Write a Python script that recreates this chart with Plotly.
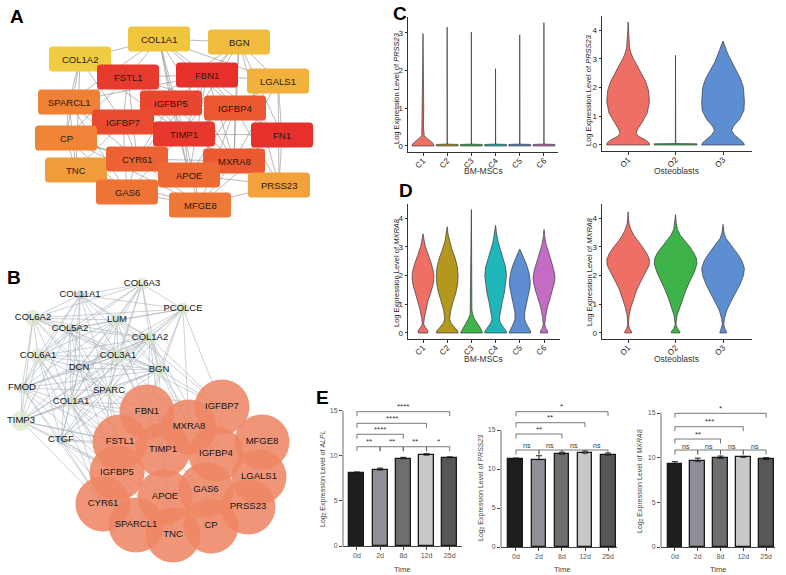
import plotly.graph_objects as go

W, H = 786, 575
FONT = "Liberation Sans, Arial, sans-serif"

# ---------------- Panel A : PPI network (boxes) ----------------
a_genes = ["COL1A2", "COL1A1", "BGN", "LGALS1", "FSTL1", "FBN1", "SPARCL1", "IGFBP5", "IGFBP4", "IGFBP7",
           "CP", "TIMP1", "FN1", "TNC", "CYR61", "MXRA8", "GAS6", "PRSS23", "APOE", "MFGE8"]
a_pos_x = [80, 159, 239, 278, 128, 207, 69, 171, 235, 123, 66, 184, 282, 76, 137, 234, 127, 279, 189, 200]
a_pos_y = [59, 39, 42, 81, 77, 75, 102, 103, 108, 122, 138, 134, 135, 170, 159, 161, 192, 185, 175, 205]
a_colors = ["#EFCC42", "#F0C63F", "#F1BC3D", "#F2B13C", "#E8392E", "#E7302C", "#EF8036", "#E9452F", "#EB5731",
            "#E94B30", "#EF8437", "#E8372E", "#E7302C", "#F19C3A", "#EC6233", "#EB5A31", "#EE7435", "#F2A13B",
            "#ED6A34", "#EE7836"]
a_edges = [
    ("COL1A1", "COL1A2"), ("COL1A1", "BGN"), ("COL1A1", "FSTL1"), ("COL1A1", "FBN1"), ("COL1A1", "IGFBP5"),
    ("COL1A1", "TIMP1"), ("COL1A1", "LGALS1"), ("COL1A1", "SPARCL1"), ("COL1A1", "MXRA8"), ("COL1A1", "APOE"),
    ("COL1A1", "IGFBP4"), ("BGN", "FBN1"), ("BGN", "LGALS1"), ("BGN", "IGFBP4"), ("BGN", "TIMP1"), ("BGN", "FN1"),
    ("BGN", "MXRA8"), ("BGN", "IGFBP7"), ("BGN", "CYR61"), ("BGN", "PRSS23"), ("COL1A2", "FSTL1"),
    ("COL1A2", "SPARCL1"), ("COL1A2", "IGFBP7"), ("COL1A2", "CP"), ("COL1A2", "TIMP1"), ("COL1A2", "IGFBP5"),
    ("FSTL1", "FBN1"), ("FSTL1", "IGFBP5"), ("FSTL1", "IGFBP7"), ("FSTL1", "SPARCL1"), ("FSTL1", "TIMP1"),
    ("FSTL1", "CYR61"), ("FSTL1", "IGFBP4"), ("FSTL1", "CP"), ("FBN1", "IGFBP5"), ("FBN1", "IGFBP4"),
    ("FBN1", "TIMP1"), ("FBN1", "LGALS1"), ("FBN1", "FN1"), ("FBN1", "MXRA8"), ("FBN1", "APOE"),
    ("LGALS1", "FN1"), ("LGALS1", "PRSS23"), ("LGALS1", "IGFBP4"), ("LGALS1", "MXRA8"), ("LGALS1", "TIMP1"),
    ("SPARCL1", "CP"), ("SPARCL1", "TNC"), ("SPARCL1", "IGFBP7"), ("SPARCL1", "GAS6"), ("SPARCL1", "CYR61"),
    ("IGFBP5", "IGFBP4"), ("IGFBP5", "TIMP1"), ("IGFBP5", "IGFBP7"), ("IGFBP5", "MXRA8"), ("IGFBP5", "CYR61"),
    ("IGFBP5", "APOE"), ("IGFBP4", "TIMP1"), ("IGFBP4", "FN1"), ("IGFBP4", "MXRA8"), ("IGFBP4", "APOE"),
    ("IGFBP4", "PRSS23"), ("IGFBP4", "MFGE8"), ("IGFBP7", "CP"), ("IGFBP7", "TIMP1"), ("IGFBP7", "CYR61"),
    ("IGFBP7", "TNC"), ("IGFBP7", "GAS6"), ("CP", "TNC"), ("CP", "CYR61"), ("CP", "GAS6"), ("CP", "APOE"),
    ("TIMP1", "FN1"), ("TIMP1", "MXRA8"), ("TIMP1", "CYR61"), ("TIMP1", "APOE"), ("TIMP1", "GAS6"),
    ("TIMP1", "MFGE8"), ("TIMP1", "PRSS23"), ("FN1", "MXRA8"), ("FN1", "PRSS23"), ("FN1", "MFGE8"),
    ("FN1", "APOE"), ("TNC", "CYR61"), ("TNC", "GAS6"), ("TNC", "MFGE8"), ("CYR61", "APOE"), ("CYR61", "GAS6"),
    ("CYR61", "MXRA8"), ("CYR61", "MFGE8"), ("MXRA8", "APOE"), ("MXRA8", "PRSS23"), ("MXRA8", "MFGE8"),
    ("MXRA8", "GAS6"), ("APOE", "GAS6"), ("APOE", "MFGE8"), ("APOE", "PRSS23"), ("GAS6", "MFGE8"),
    ("PRSS23", "MFGE8"), ("COL1A2", "TNC"), ("SPARCL1", "FBN1"), ("CP", "MFGE8"),
]

# ---------------- Panel B : PPI network (circles) ----------------
b_small = ["COL6A3", "COL11A1", "PCOLCE", "COL6A2", "LUM", "COL5A2", "COL1A2", "COL6A1", "COL3A1", "DCN",
           "BGN", "FMOD", "SPARC", "COL1A1", "TIMP3", "CTGF"]
b_small_x = [142, 80, 183, 33, 117, 70, 150, 38, 118, 79, 159, 22, 109, 71, 21, 61]
b_small_y = [284, 295, 309, 318, 320, 329, 338, 356, 356, 368, 370, 388, 391, 402, 421, 440]
b_small_size = [12, 9, 13, 16, 13, 9, 14, 15, 15, 10, 14, 11, 13, 14, 20, 9]
b_small_color = ["#D7E6CA", "#B7CAD6", "#D7E6CA", "#D7E6CA", "#D7E6CA", "#BCCDD8", "#D7E6CA", "#D7E6CA",
                 "#D7E6CA", "#BCCDD8", "#D7E6CA", "#C9D8D6", "#D7E6CA", "#D7E6CA", "#D9E8C6", "#A9C0D2"]
b_big = ["FBN1", "IGFBP7", "MXRA8", "FSTL1", "TIMP1", "IGFBP4", "MFGE8", "IGFBP5", "LGALS1", "APOE",
         "GAS6", "CYR61", "PRSS23", "SPARCL1", "CP", "TNC"]
b_big_x = [147, 222, 189, 120, 163, 216, 262, 117, 259, 165, 206, 103, 248, 136, 211, 173]
b_big_y = [412, 407, 427, 442, 450, 454, 442, 473, 477, 497, 490, 504, 507, 525, 526, 535]
b_adjacency = {
    "COL6A3": ["COL11A1", "PCOLCE", "LUM", "COL5A2", "COL1A2", "COL3A1", "DCN", "BGN", "COL6A2", "COL6A1", "SPARC", "COL1A1"],
    "COL11A1": ["COL6A2", "LUM", "COL5A2", "COL1A2", "COL6A1", "COL3A1", "DCN", "BGN", "SPARC", "COL1A1", "FMOD", "PCOLCE"],
    "PCOLCE": ["LUM", "COL1A2", "COL3A1", "BGN", "COL5A2", "COL6A2", "DCN", "SPARC", "COL1A1", "IGFBP7", "MXRA8", "FBN1"],
    "COL6A2": ["LUM", "COL5A2", "COL1A2", "COL6A1", "COL3A1", "DCN", "FMOD", "COL1A1", "TIMP3", "SPARC", "BGN"],
    "LUM": ["COL5A2", "COL1A2", "COL6A1", "COL3A1", "DCN", "BGN", "FMOD", "SPARC", "COL1A1", "FBN1", "IGFBP7"],
    "COL5A2": ["COL1A2", "COL6A1", "COL3A1", "DCN", "BGN", "FMOD", "SPARC", "COL1A1", "TIMP3", "CTGF", "FSTL1"],
    "COL1A2": ["COL6A1", "COL3A1", "DCN", "BGN", "FMOD", "SPARC", "COL1A1", "TIMP3", "CTGF", "FBN1", "MXRA8", "IGFBP7", "TIMP1", "IGFBP4"],
    "COL6A1": ["COL3A1", "DCN", "BGN", "FMOD", "SPARC", "COL1A1", "TIMP3", "CTGF", "IGFBP5", "CYR61"],
    "COL3A1": ["DCN", "BGN", "FMOD", "SPARC", "COL1A1", "TIMP3", "CTGF", "FBN1", "TIMP1", "IGFBP7", "MXRA8"],
    "DCN": ["BGN", "FMOD", "SPARC", "COL1A1", "TIMP3", "CTGF", "FSTL1", "IGFBP5", "TIMP1"],
    "BGN": ["FMOD", "SPARC", "COL1A1", "TIMP3", "CTGF", "IGFBP7", "FBN1", "MXRA8", "TIMP1", "IGFBP4"],
    "FMOD": ["SPARC", "COL1A1", "TIMP3", "CTGF", "CYR61", "FSTL1", "IGFBP5"],
    "SPARC": ["COL1A1", "TIMP3", "CTGF", "FBN1", "FSTL1", "TIMP1", "IGFBP7", "IGFBP5", "CYR61"],
    "COL1A1": ["TIMP3", "CTGF", "FBN1", "FSTL1", "TIMP1", "IGFBP5", "IGFBP7", "MXRA8", "CYR61", "SPARCL1", "APOE"],
    "TIMP3": ["CTGF", "FSTL1", "IGFBP5", "CYR61", "TIMP1"],
    "CTGF": ["FSTL1", "IGFBP5", "CYR61", "TIMP1", "APOE", "SPARCL1"],
    "FBN1": ["MXRA8", "TIMP1", "FSTL1"],
    "IGFBP7": ["MXRA8", "IGFBP4"],
    "MXRA8": ["TIMP1", "IGFBP4", "GAS6"],
    "FSTL1": ["TIMP1", "IGFBP5", "APOE"],
    "TIMP1": ["IGFBP4", "APOE", "GAS6", "CP", "TNC"],
    "IGFBP4": ["MFGE8", "LGALS1", "GAS6", "CP", "APOE"],
    "MFGE8": ["LGALS1"],
    "IGFBP5": ["APOE", "CYR61", "TNC"],
    "APOE": ["GAS6", "CP", "TNC", "SPARCL1"],
    "GAS6": ["PRSS23", "LGALS1", "CP"],
    "CYR61": ["SPARCL1"],
    "CP": ["TNC"],
    "PRSS23": ["LGALS1"],
}

# ---------------- Panels C / D : violin profiles (level, half-width) ----------------
bm_clusters = ["C1", "C2", "C3", "C4", "C5", "C6"]
ob_clusters = ["O1", "O2", "O3"]
bm_colors = ["#EF6F67", "#B4981E", "#3DB34A", "#1FB6B9", "#5D8ED1", "#C46BC4"]
ob_colors = ["#EF6F67", "#3DB34A", "#5D8ED1"]

prss23_bm = [
    [(0, .45), (.05, .44), (.12, .33), (.2, .16), (.28, .05), (.5, .02), (1.0, .03), (1.5, .03), (2.0, .015), (2.5, .006), (2.98, 0)],
    [(0, .45), (.04, .45), (.05, .004), (3.15, .002)],
    [(0, .45), (.04, .45), (.05, .004), (3.02, .002)],
    [(0, .45), (.04, .45), (.05, .004), (2.05, .002)],
    [(0, .45), (.04, .45), (.05, .004), (2.95, .002)],
    [(0, .45), (.04, .45), (.05, .004), (3.27, .002)],
]
prss23_ob = [
    [(0, .45), (.08, .44), (.18, .36), (.3, .22), (.4, .17), (.55, .2), (.8, .3), (1.1, .4), (1.5, .45), (1.9, .43),
     (2.2, .37), (2.5, .28), (2.8, .18), (3.0, .11), (3.2, .06), (3.4, .03), (3.7, .015), (4.0, .006), (4.28, 0)],
    [(0, .45), (.04, .45), (.05, .004), (3.12, .002)],
    [(0, .45), (.08, .43), (.2, .35), (.35, .24), (.5, .18), (.65, .22), (.9, .35), (1.2, .44), (1.5, .45), (2.0, .43),
     (2.3, .37), (2.6, .27), (2.9, .17), (3.1, .12), (3.3, .07), (3.5, .03), (3.62, 0)],
]
mxra8_bm = [
    [(0, .2), (.08, .2), (.2, .1), (.3, .03), (.5, .05), (.8, .12), (1.1, .2), (1.4, .32), (1.7, .42), (1.9, .45),
     (2.1, .44), (2.4, .35), (2.7, .22), (3.0, .1), (3.2, .05), (3.45, 0)],
    [(0, .45), (.06, .44), (.2, .3), (.35, .15), (.5, .1), (.8, .15), (1.1, .25), (1.4, .36), (1.7, .43), (2.0, .45),
     (2.3, .42), (2.6, .33), (2.9, .2), (3.2, .09), (3.45, .03), (3.7, 0)],
    [(0, .45), (.06, .44), (.2, .35), (.35, .22), (.5, .12), (.65, .05), (.8, .02), (1.5, .015), (2.5, .02),
     (3.0, .02), (3.5, .012), (4.0, .006), (4.3, 0)],
    [(0, .45), (.06, .44), (.2, .32), (.35, .2), (.5, .15), (.8, .2), (1.1, .28), (1.4, .36), (1.7, .42), (2.0, .45),
     (2.3, .41), (2.6, .32), (2.9, .2), (3.2, .1), (3.45, .04), (3.75, 0)],
    [(0, .45), (.06, .44), (.2, .35), (.35, .25), (.5, .2), (.7, .2), (1.0, .27), (1.3, .36), (1.6, .42), (1.8, .43),
     (2.1, .38), (2.4, .27), (2.6, .17), (2.8, .07), (2.92, 0)],
    [(0, .15), (.06, .15), (.15, .08), (.3, .03), (.6, .07), (.9, .14), (1.2, .25), (1.5, .36), (1.8, .44), (1.95, .45),
     (2.2, .4), (2.5, .3), (2.8, .18), (3.1, .08), (3.35, .03), (3.6, 0)],
]
mxra8_ob = [
    [(0, .07), (.05, .07), (.15, .03), (.3, .008), (.6, .02), (.9, .06), (1.2, .12), (1.5, .18), (1.8, .27), (2.1, .37),
     (2.35, .44), (2.55, .45), (2.75, .4), (3.0, .3), (3.2, .2), (3.4, .12), (3.6, .06), (3.8, .02), (4.0, .008), (4.22, 0)],
    [(0, .09), (.05, .09), (.15, .04), (.3, .008), (.6, .03), (.9, .09), (1.2, .15), (1.5, .22), (1.8, .3), (2.1, .39),
     (2.4, .45), (2.6, .44), (2.8, .38), (3.0, .3), (3.2, .2), (3.4, .1), (3.6, .04), (3.8, .015), (4.12, 0)],
    [(0, .07), (.05, .07), (.15, .04), (.3, .015), (.5, .03), (.8, .08), (1.1, .17), (1.4, .27), (1.7, .36), (2.0, .43),
     (2.25, .45), (2.5, .4), (2.7, .33), (2.9, .24), (3.1, .15), (3.3, .06), (3.5, .02), (3.78, 0)],
]

# ---------------- Panel E : bar charts ----------------
days = ["0d", "2d", "8d", "12d", "25d"]
bar_colors = ["#1E1E1E", "#8E8F97", "#6E6E6E", "#C8C8C8", "#575757"]
alpl_mean = [8.1, 8.45, 9.7, 10.1, 9.8]
alpl_err = [0.12, 0.2, 0.15, 0.15, 0.1]
prss23_mean = [11.3, 11.2, 11.9, 12.05, 11.8]
prss23_err = [0.1, 0.5, 0.25, 0.25, 0.25]
mxra8_mean = [9.35, 9.6, 9.93, 10.05, 9.8]
mxra8_err = [0.2, 0.35, 0.25, 0.1, 0.2]
alpl_sig = [(0, 1, 11.03, "**"), (1, 2, 11.03, "**"), (2, 3, 11.03, "**"), (3, 4, 11.03, "*"),
            (0, 2, 12.41, "****"), (0, 3, 13.63, "****"), (0, 4, 14.92, "****")]
prss23_sig = [(0, 1, 12.44, "ns"), (1, 2, 12.44, "ns"), (2, 3, 12.44, "ns"), (3, 4, 12.44, "ns"),
              (0, 2, 14.49, "**"), (0, 3, 15.94, "**"), (0, 4, 17.35, "*")]
mxra8_sig = [(0, 1, 10.86, "ns"), (1, 2, 10.86, "ns"), (2, 3, 10.86, "ns"), (3, 4, 10.86, "ns"),
             (0, 2, 12.09, "**"), (0, 3, 13.47, "***"), (0, 4, 14.97, "*")]

# =====================================================================
def dx(a, b):
    return [a / W, b / W]


def dy(top, bottom):
    return [1 - bottom / H, 1 - top / H]


def px(x):
    return x / W


def py(y):
    return 1 - y / H


fig = go.Figure()
annotations = []
shapes = []


def paper_text(x, y, text, size, color, angle=0, bold=False):
    annotations.append(dict(x=px(x), y=py(y), xref="paper", yref="paper",
                            text=f"<b>{text}</b>" if bold else text, textangle=angle,
                            xanchor="center", yanchor="middle", showarrow=False,
                            font=dict(family=FONT, size=size, color=color)))


# ---- network axes (pixel space) ----
NET_W = 330
layout_axes = dict(
    xaxis=dict(domain=dx(0, NET_W), range=[0, NET_W], visible=False, fixedrange=True, automargin=False),
    yaxis=dict(domain=[0, 1], range=[H, 0], visible=False, fixedrange=True, automargin=False),
)

# Panel A edges
a_idx = {g: i for i, g in enumerate(a_genes)}
ex, ey = [], []
for s, t in a_edges:
    i, j = a_idx[s], a_idx[t]
    ex += [a_pos_x[i], a_pos_x[j], None]
    ey += [a_pos_y[i], a_pos_y[j], None]
fig.add_trace(go.Scatter(x=ex, y=ey, mode="lines", line=dict(color="#8A8A8A", width=0.6),
                         hoverinfo="skip", showlegend=False, xaxis="x", yaxis="y"))


def rrect(cx, cy, w, h, r):
    x0, x1, y0, y1 = cx - w / 2, cx + w / 2, cy - h / 2, cy + h / 2
    return (f"M{x0 + r},{y0} L{x1 - r},{y0} Q{x1},{y0} {x1},{y0 + r} L{x1},{y1 - r} Q{x1},{y1} {x1 - r},{y1} "
            f"L{x0 + r},{y1} Q{x0},{y1} {x0},{y1 - r} L{x0},{y0 + r} Q{x0},{y0} {x0 + r},{y0} Z")


BOX_W, BOX_H = 62, 25
for g, x, y, c in zip(a_genes, a_pos_x, a_pos_y, a_colors):
    shapes.append(dict(type="path", path=rrect(x, y, BOX_W, BOX_H, 3.5), xref="x", yref="y",
                       fillcolor=c, line=dict(width=0), layer="above"))
    annotations.append(dict(x=x, y=y, xref="x", yref="y", text=g, showarrow=False,
                            xanchor="center", yanchor="middle",
                            font=dict(family=FONT, size=9.5, color="#2A1A12")))

# Panel B edges
b_pos = {}
for n, x, y in zip(b_small, b_small_x, b_small_y):
    b_pos[n] = (x, y)
for n, x, y in zip(b_big, b_big_x, b_big_y):
    b_pos[n] = (x, y)
bx, by = [], []
for s, targets in b_adjacency.items():
    for t in targets:
        bx += [b_pos[s][0], b_pos[t][0], None]
        by += [b_pos[s][1], b_pos[t][1], None]
fig.add_trace(go.Scatter(x=bx, y=by, mode="lines", line=dict(color="rgba(160,168,178,0.75)", width=0.7),
                         hoverinfo="skip", showlegend=False, xaxis="x", yaxis="y"))
fig.add_trace(go.Scatter(x=b_small_x, y=b_small_y, mode="markers",
                         marker=dict(size=b_small_size, color=b_small_color, line=dict(width=0)),
                         hoverinfo="skip", showlegend=False, xaxis="x", yaxis="y"))
fig.add_trace(go.Scatter(x=b_big_x, y=b_big_y, mode="markers",
                         marker=dict(size=55, color="rgb(238,134,100)", opacity=0.88, line=dict(width=0)),
                         hoverinfo="skip", showlegend=False, xaxis="x", yaxis="y"))
fig.add_trace(go.Scatter(x=b_small_x + b_big_x, y=b_small_y + b_big_y, mode="text", text=b_small + b_big,
                         textfont=dict(family=FONT, size=9.5, color="#151515"),
                         hoverinfo="skip", showlegend=False, xaxis="x", yaxis="y"))

# ---- violin panels ----
tick_font = dict(family=FONT, size=8, color="#222")


def add_violins(profiles, colors, xa, ya):
    for i, (prof, col) in enumerate(zip(profiles, colors)):
        lv = [p[0] for p in prof]
        hw = [p[1] for p in prof]
        xs = [i + w for w in hw] + [i - w for w in reversed(hw)] + [i + hw[0]]
        ys = lv + lv[::-1] + [lv[0]]
        fig.add_trace(go.Scatter(x=xs, y=ys, mode="lines", fill="toself", fillcolor=col,
                                 line=dict(color="#3A3A3A", width=0.7), hoverinfo="skip",
                                 showlegend=False, xaxis=xa, yaxis=ya))


viol_specs = [
    ("x2", "y2", prss23_bm, bm_colors, bm_clusters, dx(408, 558), dy(17, 152), [-0.62, 5.58], [-0.16, 3.42], [0, 1, 2, 3]),
    ("x3", "y3", prss23_ob, ob_colors, ob_clusters, dx(602, 752), dy(16, 151), [-0.55, 2.61], [-0.21, 4.49], [0, 1, 2, 3, 4]),
    ("x4", "y4", mxra8_bm, bm_colors, bm_clusters, dx(408, 560), dy(204, 339), [-0.62, 5.66], [-0.21, 4.49], [0, 1, 2, 3, 4]),
    ("x5", "y5", mxra8_ob, ob_colors, ob_clusters, dx(602, 752), dy(204, 339), [-0.55, 2.61], [-0.21, 4.49], [0, 1, 2, 3, 4]),
]
for xa, ya, prof, cols, cats, xd, yd, xr, yr, yt in viol_specs:
    add_violins(prof, cols, xa, ya)
    xn = "xaxis" + xa[1:]
    yn = "yaxis" + ya[1:]
    layout_axes[xn] = dict(domain=xd, range=xr, anchor=ya, showline=True, linecolor="#333", linewidth=1,
                           ticks="outside", ticklen=3, tickcolor="#333", tickvals=list(range(len(cats))),
                           ticktext=cats, tickangle=-45, tickfont=tick_font, showgrid=False, zeroline=False,
                           ticklabelstandoff=-3, fixedrange=True, automargin=False)
    layout_axes[yn] = dict(domain=yd, range=yr, anchor=xa, showline=True, linecolor="#333", linewidth=1,
                           ticks="outside", ticklen=2.5, tickcolor="#333", tickvals=yt, tickfont=tick_font,
                           showgrid=False, zeroline=False, fixedrange=True, automargin=False)

for x, y, t in [(396, 88, "Log Expression Level of <i>PRSS23</i>"), (589, 90, "Log Expression Level of <i>PRSS23</i>"),
                (396, 272, "Log Expression Level of <i>MXRA8</i>"), (589, 272, "Log Expression Level of <i>MXRA8</i>")]:
    paper_text(x, y, t, 7.5, "#222", angle=-90)
for x, y, t in [(483, 171, "BM-MSCs"), (676, 171, "Osteoblasts"), (483, 359, "BM-MSCs"), (676, 359, "Osteoblasts")]:
    paper_text(x, y, t, 8.5, "#333")

# ---- bar panels ----
bar_font = dict(family=FONT, size=7, color="#555")
bar_specs = [
    ("x6", "y6", alpl_mean, alpl_err, alpl_sig, dx(343, 462), dy(400, 546), [-0.6, 4.53], [0, 16.22], 9.0),
    ("x7", "y7", prss23_mean, prss23_err, prss23_sig, dx(501, 617), dy(400, 547), [-0.65, 4.39], [0, 18.85], 7.8),
    ("x8", "y8", mxra8_mean, mxra8_err, mxra8_sig, dx(661, 775), dy(400, 547), [-0.61, 4.39], [0, 16.46], 8.93),
]
for xa, ya, mean, err, sig, xd, yd, xr, yr, ppu in bar_specs:
    fig.add_trace(go.Bar(x=list(range(len(days))), y=mean, width=0.65,
                         marker=dict(color=bar_colors, line=dict(color="#1A1A1A", width=1.3)),
                         error_y=dict(type="data", array=err, arrayminus=[0] * len(err), symmetric=False,
                                      color="#1A1A1A", thickness=1, width=3),
                         hoverinfo="skip", showlegend=False, xaxis=xa, yaxis=ya))
    tick_len = 4.5 / ppu
    sx, sy = [], []
    for i, j, h, lab in sig:
        sx += [i, i, j, j, None]
        sy += [h - tick_len, h, h, h - tick_len, None]
        annotations.append(dict(x=(i + j) / 2, y=h, xref=xa, yref=ya, text=lab, showarrow=False,
                                xanchor="center", yanchor="bottom", yshift=-1.5,
                                font=dict(family=FONT, size=8 if lab != "ns" else 7, color="#333")))
    fig.add_trace(go.Scatter(x=sx, y=sy, mode="lines", line=dict(color="#555", width=0.8),
                             hoverinfo="skip", showlegend=False, xaxis=xa, yaxis=ya))
    xn = "xaxis" + xa[1:]
    yn = "yaxis" + ya[1:]
    layout_axes[xn] = dict(domain=xd, range=xr, anchor=ya, showline=True, linecolor="#444", linewidth=0.8,
                           ticks="outside", ticklen=3, tickcolor="#444", tickvals=list(range(len(days))),
                           ticktext=days, tickfont=bar_font, showgrid=False, zeroline=False, fixedrange=True,
                           automargin=False)
    layout_axes[yn] = dict(domain=yd, range=yr, anchor=xa, showline=False, ticks="outside", ticklen=3,
                           tickcolor="#444", tickvals=[0, 5, 10, 15], tickfont=bar_font, showgrid=False,
                           zeroline=False, fixedrange=True, automargin=False)
    shapes.append(dict(type="line", xref=xa + " domain", yref=ya, x0=0, x1=0, y0=0, y1=15,
                       line=dict(color="#444", width=0.8)))

for x, y, t in [(323, 479, "Log<sub>2</sub> Expression Level of <i>ALPL</i>"),
                (481, 488, "Log<sub>2</sub> Expression Level of <i>PRSS23</i>"),
                (640, 481, "Log<sub>2</sub> Expression Level of <i>MXRA8</i>")]:
    paper_text(x, y, t, 7, "#444", angle=-90)
for x in [402, 562, 718]:
    paper_text(x, 569, "Time", 7.5, "#444")

# ---- panel letters ----
for x, y, t in [(17, 16, "A"), (14, 277, "B"), (400, 14, "C"), (406, 190, "D"), (322, 397, "E")]:
    paper_text(x, y, t, 19, "#000", bold=True)

fig.update_layout(
    width=W, height=H, margin=dict(l=0, r=0, t=0, b=0, autoexpand=False),
    paper_bgcolor="white", plot_bgcolor="white", showlegend=False,
    annotations=annotations, shapes=shapes, bargap=0, **layout_axes,
)
# remove the browser's default 8px page margin so the 786x575 figure fills the window exactly
fig.write_html("out.html", config={"displayModeBar": False},
               post_script="document.body.style.margin='0px';")
